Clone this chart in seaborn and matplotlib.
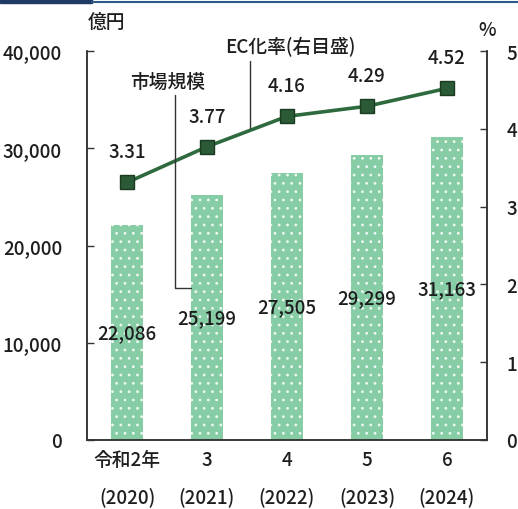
import matplotlib
matplotlib.use("Agg")
import matplotlib.pyplot as plt
import seaborn as sns
import pandas as pd

# EC market size (100 million yen) and EC penetration rate (%)
years_jp = ["令和2年", "3", "4", "5", "6"]
years_ad = ["(2020)", "(2021)", "(2022)", "(2023)", "(2024)"]
market_size = [22086, 25199, 27505, 29299, 31163]
ec_rate = [3.31, 3.77, 4.16, 4.29, 4.52]
left_ticks = [0, 10000, 20000, 30000, 40000]
right_ticks = [0, 1, 2, 3, 4, 5]

sns.set_theme(style="white")
plt.rcParams["font.family"] = ["Noto Sans CJK JP", "DejaVu Sans"]
plt.rcParams["font.weight"] = "medium"
plt.rcParams["hatch.linewidth"] = 0.8

BAR = "#86cca5"
LINE = "#2f6a3e"
MARK = "#2b5a36"
TXT = "#1e1e1e"
FS = 13.5

labels = [f"{a}\n{b}" for a, b in zip(years_jp, years_ad)]
df = pd.DataFrame({"year": labels, "size": market_size, "rate": ec_rate,
                   "pos": range(len(labels))})

fig = plt.figure(figsize=(5.18, 5.10), dpi=100)
ax = fig.add_axes([0.168, 0.1353, 0.772, 0.7627])

# dotted bars: light hatch dots over the green fill
sns.barplot(data=df, x="year", y="size", ax=ax, color=BAR, width=0.41,
            saturation=1, edgecolor="white", linewidth=0)
for p in ax.patches:
    p.set_facecolor(BAR)
    p.set_edgecolor("#eef9f2")
    p.set_linewidth(0)
    p.set_hatch("..")

ax.set_ylim(0, 40000)
ax.set_xlim(-0.5, len(labels) - 0.5)
ax.set_yticks(left_ticks)
ax.set_yticklabels([f"{v:,}" for v in left_ticks], fontsize=FS, color=TXT)
ax.set_xlabel("")
ax.set_ylabel("")
ax.tick_params(axis="y", direction="in", length=5, width=1, pad=18, color="#333333")
ax.tick_params(axis="x", length=0, pad=7, labelsize=FS, labelcolor=TXT)
for lab in ax.get_xticklabels():
    lab.set_linespacing(2.1)
    lab.set_verticalalignment("top")
ax.spines["top"].set_visible(False)
for s in ["left", "bottom", "right"]:
    ax.spines[s].set_color("#333333")
    ax.spines[s].set_linewidth(1.1)

# bar value labels at mid-height
for i, v in enumerate(market_size):
    ax.text(i, v / 2, f"{v:,}", ha="center", va="center", fontsize=FS, color=TXT)

ax2 = ax.twinx()
sns.lineplot(data=df, x="pos", y="rate", ax=ax2, color=LINE, linewidth=2.6,
             marker="s", markersize=10, markerfacecolor=MARK,
             markeredgecolor="#1a3a22", markeredgewidth=1)
ax2.set_ylim(0, 5)
ax2.set_xlim(-0.5, len(labels) - 0.5)
ax2.set_yticks(right_ticks)
ax2.set_yticklabels([str(v) for v in right_ticks], fontsize=FS, color=TXT)
ax2.tick_params(axis="y", direction="in", length=5, width=1, pad=14, color="#333333")
ax2.set_ylabel("")
ax2.set_xlabel("")
ax2.spines["top"].set_visible(False)
for s in ["left", "bottom", "right"]:
    ax2.spines[s].set_color("#333333")
    ax2.spines[s].set_linewidth(1.1)

for i, v in enumerate(ec_rate):
    ax2.annotate(f"{v:.2f}", (i, v), xytext=(0, 22), textcoords="offset points",
                 ha="center", va="center", fontsize=FS, color=TXT)

# unit labels
fig.text(88 / 518, 1 - 22 / 510, "億円", ha="left", va="center", fontsize=FS, color=TXT)
fig.text(487 / 518, 1 - 31 / 510, "%", ha="center", va="center", fontsize=FS, color=TXT)

# series callouts with leader lines
fig.text(168 / 518, 1 - 82 / 510, "市場規模", ha="center", va="center", fontsize=FS, color=TXT)
fig.add_artist(plt.Line2D([175 / 518, 175 / 518, 191 / 518],
                          [1 - 96 / 510, 1 - 289 / 510, 1 - 289 / 510],
                          color="#333333", linewidth=1))
fig.text(290 / 518, 1 - 47 / 510, "EC化率(右目盛)", ha="center", va="center", fontsize=FS, color=TXT)
fig.add_artist(plt.Line2D([250 / 518, 250 / 518], [1 - 62 / 510, 1 - 129 / 510],
                          color="#333333", linewidth=1))

# header rule
fig.add_artist(plt.Rectangle((0, 1 - 4 / 510), 92 / 518, 4 / 510, color="#1f3b63",
                             transform=fig.transFigure))
fig.add_artist(plt.Line2D([92 / 518, 1], [1 - 3 / 510, 1 - 3 / 510],
                          color="#2e5a8a", linewidth=1.5))

fig.savefig("out.png", dpi=100, facecolor="white")
